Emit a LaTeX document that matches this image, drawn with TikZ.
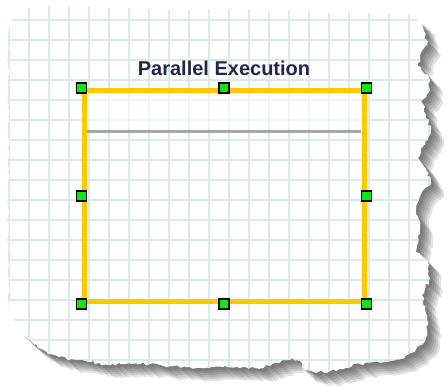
\documentclass[tikz,border=0pt]{standalone}
\usepackage{fontspec}
\setmainfont{Liberation Sans}
\usetikzlibrary{decorations.pathmorphing}
\definecolor{gridc}{HTML}{D9EDE7}
\definecolor{frameY}{HTML}{FFC800}
\definecolor{handleG}{HTML}{12E612}
\definecolor{titleC}{HTML}{23264A}
\definecolor{sepC}{HTML}{A8A8A8}
\newcommand\pprpath{(38,6) -- (405,14) .. controls (416,16) and (423,22) .. (424,32)
 -- (428,45) -- (420,55) -- (418,66) -- (428,75) -- (430,90) -- (422,100) -- (426,115)
 -- (431,130) -- (424,145) -- (418,158) -- (426,170) -- (431,182) -- (422,192) -- (416,210)
 -- (420,228) -- (417,245) -- (416,252) -- (428,262) -- (429,280) -- (422,295) -- (425,310)
 -- (428,325) -- (426,338) -- (422,345) -- (414,352) -- (405,358) -- (390,361) -- (378,362)
 -- (360,364) -- (345,368) -- (330,371) -- (318,372) -- (305,370) -- (300,361) -- (292,358)
 -- (282,360) -- (270,366) -- (255,368) -- (240,368) -- (225,366) -- (205,368) -- (190,367)
 -- (170,366) -- (150,364) -- (130,363) -- (110,365) -- (90,362) -- (70,360) -- (55,355)
 .. controls (35,348) and (12,330) .. (8,300) -- (8,40) .. controls (8,20) and (20,8) .. (38,6) -- cycle}
\tikzset{
  torn/.style={decorate, decoration={random steps, segment length=3pt, amplitude=1.6pt}},
  handle/.style={draw=black, fill=handleG, line width=1.3pt, minimum size=10pt, inner sep=0pt},
  framebox/.style={draw=frameY, line width=5pt, minimum width=280pt, minimum height=211pt, inner sep=0pt},
  gridline/.style={gridc, line width=1.9pt}
}
\begin{document}
\begin{tikzpicture}[x=1pt,y=-1pt]
\useasboundingbox (0,0) rectangle (448,386);
\fill[white] (0,0) rectangle (448,386);
% shadow
\foreach \d in {3,5,7,9,11,13}{
  \pgfmathsetseed{42}
  \fill[black, opacity=0.11, shift={(\d,\d)}, torn] \pprpath;
}
% paper
\pgfmathsetseed{42}
\fill[white, torn] \pprpath;
\begin{scope}
  \pgfmathsetseed{42}
  \path[torn, clip] \pprpath;
  \foreach \k in {0,...,21}{
    \draw[gridline] ({9.3+20*\k},0) -- ({9.3+20*\k},386);
  }
  \foreach \k in {1,...,19}{
    \draw[gridline] (0,{20*\k}) -- (448,{20*\k});
  }
\end{scope}
% header band
\fill[white, opacity=0.6] (87,94) rectangle (361,129);
% title
\node[font=\bfseries\fontsize{20}{24}\selectfont, text=titleC] (title) at (224,68.5) {Parallel Execution};
% frame
\node[framebox] (frame) at (224,196) {};
\coordinate (sepL) at (87,131);
\coordinate (sepR) at (361,131);
\draw[sepC, line width=3pt] (sepL) -- (sepR);
% handles
\foreach \a/\n in {north west/h1, north/h2, north east/h3, west/h4, east/h5, south west/h6, south/h7, south east/h8}{
  \node[handle] (\n) at (frame.\a) {};
}
\end{tikzpicture}
\end{document}
